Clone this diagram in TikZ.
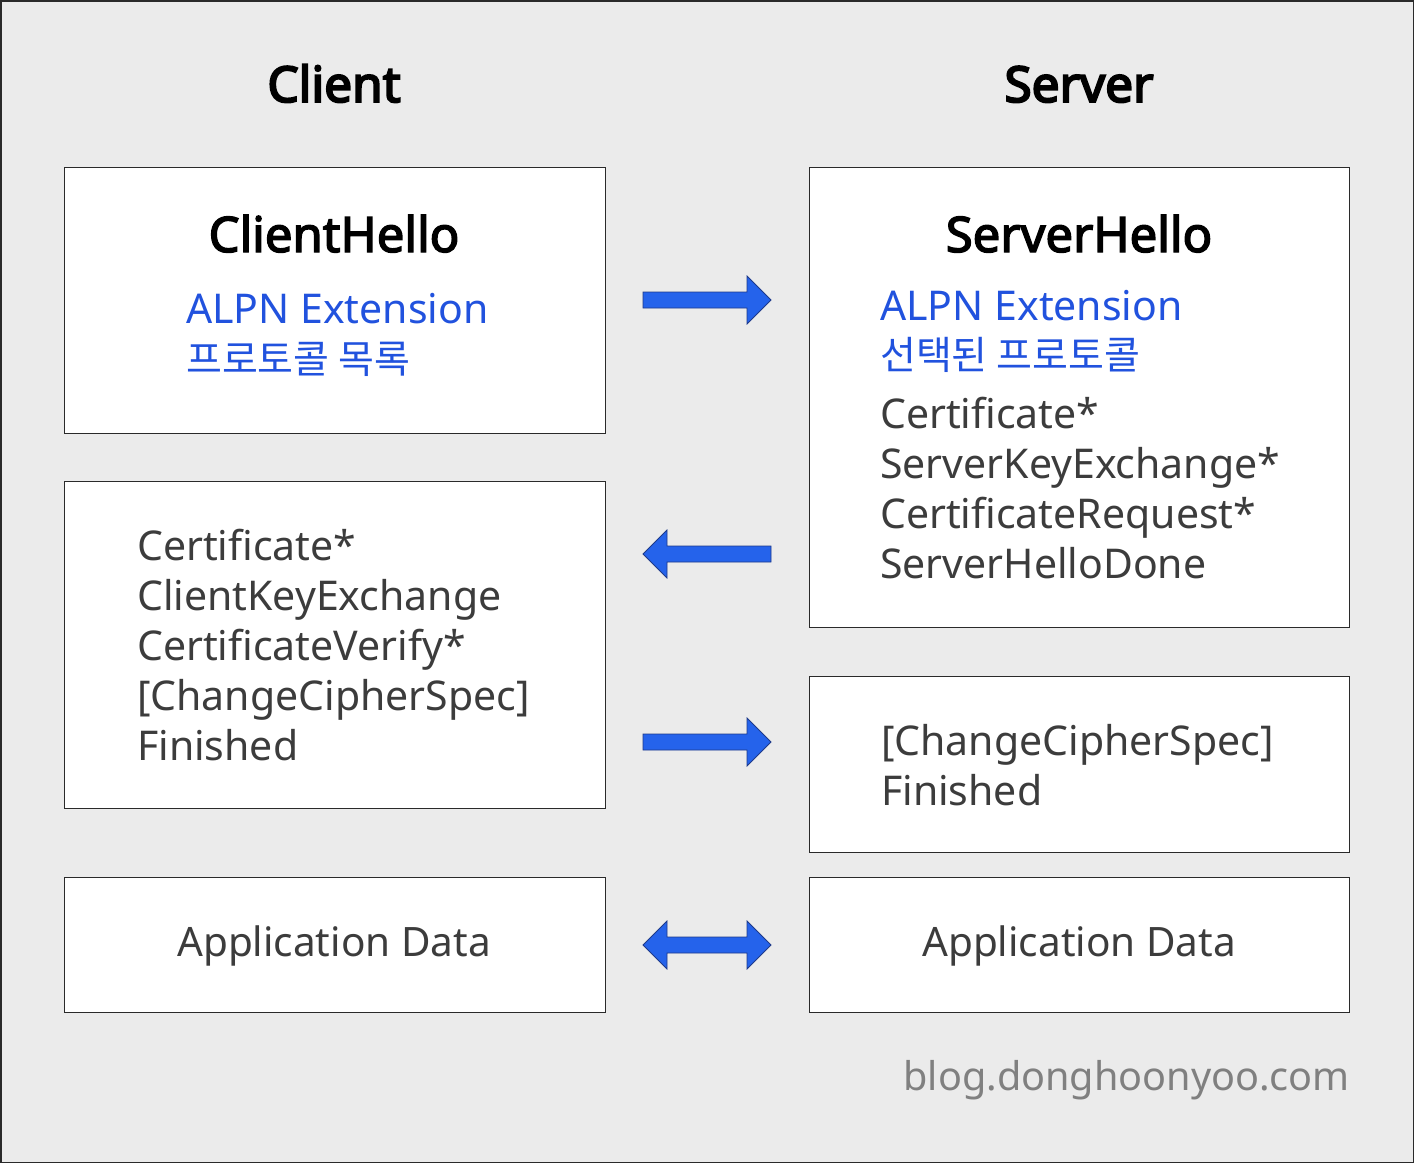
\documentclass[tikz,border=0pt]{standalone}
\usepackage{fontspec}
\setmainfont{Noto Sans}
\newfontfamily\kr{Noto Sans CJK KR}
\newfontfamily\medfont{Noto Sans}[FakeBold=3]
\newfontfamily\heavyfont{Noto Sans}[FakeBold=4]
\definecolor{bg}{HTML}{EBEBEB}
\definecolor{blu}{HTML}{2152DE}
\definecolor{arrf}{HTML}{2563EB}
\definecolor{arrd}{HTML}{1E3A8A}
\definecolor{txt}{HTML}{3C3C3C}
\definecolor{wm}{HTML}{808080}
\definecolor{frame}{HTML}{2A2A2A}
\tikzset{
  box/.style={draw=frame, line width=1pt, fill=white, anchor=north west, inner sep=0pt},
  title/.style={anchor=base, inner sep=0pt, font=\heavyfont\fontsize{49.5}{56}\selectfont, text=black},
  hello/.style={anchor=base, inner sep=0pt, font=\medfont\fontsize{49}{56}\selectfont, text=black},
  blueline/.style={anchor=base west, inner sep=0pt, font=\fontsize{41}{48}\selectfont, text=blu},
  krline/.style={anchor=base west, inner sep=0pt, font=\kr\fontsize{39}{46}\selectfont, text=blu},
  bodyline/.style={anchor=base west, inner sep=0pt, font=\fontsize{41}{48}\selectfont, text=txt},
  bodyc/.style={anchor=base, inner sep=0pt, font=\fontsize{40.5}{48}\selectfont, text=txt},
  blockarrow/.style={fill=arrf, draw=arrd, line width=0.8pt, line join=miter}
}
\newcommand{\ArrR}[1]{\path[blockarrow] (643,#1-8) -- (747,#1-8) -- (747,#1-24) -- (771,#1) -- (747,#1+24) -- (747,#1+8) -- (643,#1+8) -- cycle;}
\newcommand{\ArrL}[1]{\path[blockarrow] (771,#1-8) -- (667,#1-8) -- (667,#1-24) -- (643,#1) -- (667,#1+24) -- (667,#1+8) -- (771,#1+8) -- cycle;}
\newcommand{\ArrLR}[1]{\path[blockarrow] (667,#1-8) -- (747,#1-8) -- (747,#1-24) -- (771,#1) -- (747,#1+24) -- (747,#1+8) -- (667,#1+8) -- (667,#1+24) -- (643,#1) -- (667,#1-24) -- cycle;}
\begin{document}
\begin{tikzpicture}[x=1pt,y=-1pt]
\useasboundingbox (0,0) rectangle (1414,1163);
\fill[bg] (0,0) rectangle (1414,1163);
\draw[frame, line width=1.5pt] (0.75,0.75) rectangle (1413.25,1162.25);

% headings
\node[title] (client) at (334,102) {Client};
\node[title] (server) at (1079,102) {Server};

% boxes
\node[box, minimum width=541pt, minimum height=266pt] (b1) at (64,167) {};
\node[box, minimum width=540pt, minimum height=460pt] (b2) at (809,167) {};
\node[box, minimum width=541pt, minimum height=327pt] (b3) at (64,481) {};
\node[box, minimum width=540pt, minimum height=176pt] (b4) at (809,676) {};
\node[box, minimum width=541pt, minimum height=135pt] (b5) at (64,877) {};
\node[box, minimum width=540pt, minimum height=135pt] (b6) at (809,877) {};

% ClientHello
\node[hello] (chello) at (334,252) {ClientHello};
\node[blueline] (calpn) at (186,323) {ALPN Extension};
\node[krline] (ckr) at (186,373) {프로토콜 목록};

% ServerHello
\node[hello] (shello) at (1079,252) {ServerHello};
\node[blueline] (salpn) at (880,320) {ALPN Extension};
\node[krline] (skr) at (880,369) {선택된 프로토콜};
\node[bodyline] (s1) at (880,428) {Certificate*};
\node[bodyline] (s2) at (880,478) {ServerKeyExchange*};
\node[bodyline] (s3) at (880,528) {CertificateRequest*};
\node[bodyline] (s4) at (880,578) {ServerHelloDone};

% Client second flight
\node[bodyline] (c1) at (137,560) {Certificate*};
\node[bodyline] (c2) at (137,610) {ClientKeyExchange};
\node[bodyline] (c3) at (137,660) {CertificateVerify*};
\node[bodyline] (c4) at (137,710) {[ChangeCipherSpec]};
\node[bodyline] (c5) at (137,760) {Finished};

% Server finished
\node[bodyline] (f1) at (881,755) {[ChangeCipherSpec]};
\node[bodyline] (f2) at (881,805) {Finished};

% Application data
\node[bodyc] (ad1) at (334,956) {Application Data};
\node[bodyc] (ad2) at (1079,956) {Application Data};

% arrows
\ArrR{300}
\ArrL{554}
\ArrR{742}
\ArrLR{945}

% watermark
\node[anchor=base east, inner sep=0pt, font=\fontsize{39.6}{46}\selectfont, text=wm] (wmk) at (1350,1090) {blog.donghoonyoo.com};
\end{tikzpicture}
\end{document}
